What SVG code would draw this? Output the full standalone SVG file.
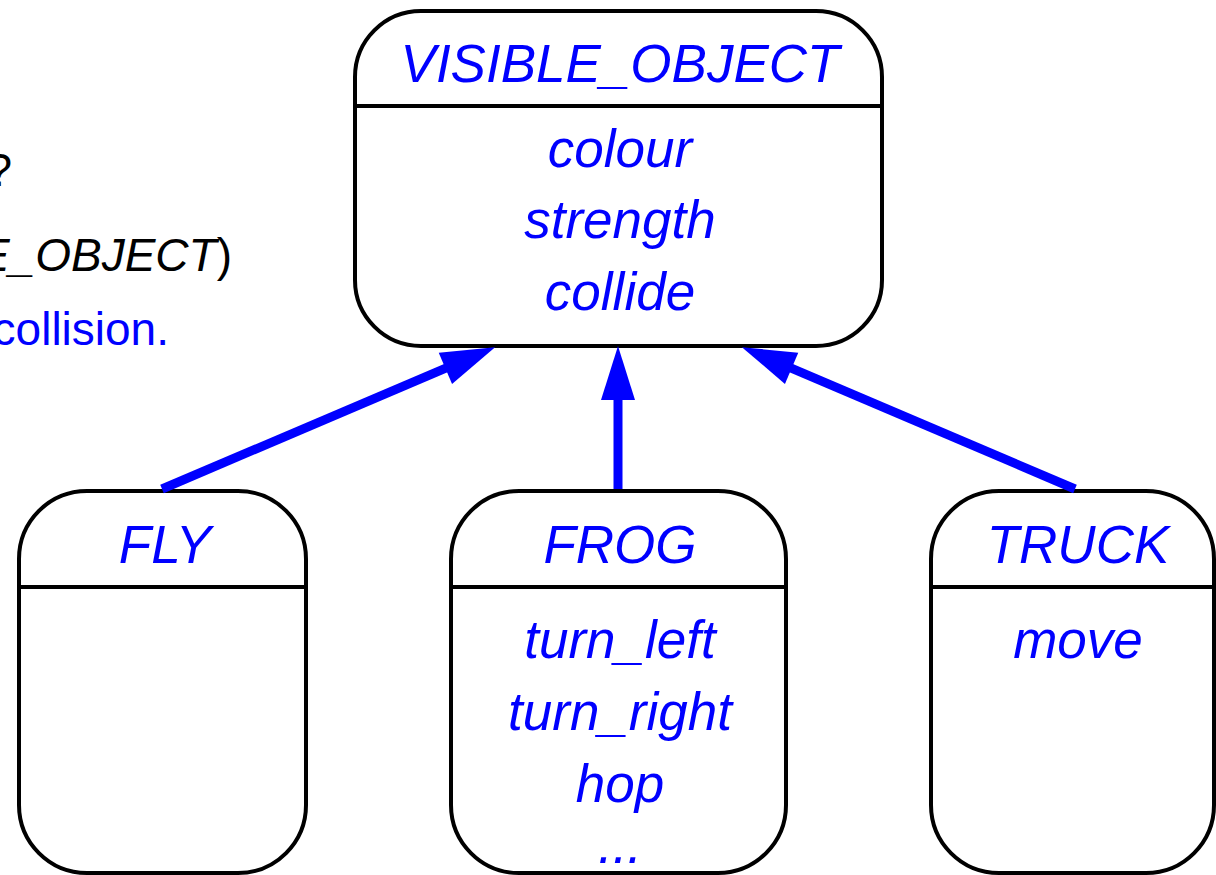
<svg xmlns="http://www.w3.org/2000/svg" width="1216" height="875" viewBox="0 0 1216 875">
<style>
.box{fill:#fff;stroke:#000;stroke-width:4}
.div{stroke:#000;stroke-width:4}
.t{font-family:"Liberation Sans",Arial,sans-serif;font-style:italic;font-size:53px;fill:#0000ff;text-anchor:middle}
.note{font-family:"Liberation Sans",Arial,sans-serif;font-size:46px}
.conn{stroke:#0000ff;stroke-width:9;fill:none}
</style>
<defs>
<marker id="head" markerUnits="userSpaceOnUse" viewBox="0 0 54 34" refX="10" refY="17" markerWidth="54" markerHeight="34" orient="auto" overflow="visible">
<path d="M0,0 L54,17 L0,34 z" fill="#0000ff"/>
</marker>
</defs>
<rect width="1216" height="875" fill="#fff"/>
<g id="note">
<text class="note" x="12" y="186" text-anchor="end" fill="#000">?</text>
<text class="note" x="232" y="271" text-anchor="end" fill="#000"><tspan font-style="italic">E_OBJECT</tspan>)</text>
<text class="note" x="169" y="345" text-anchor="end" fill="#0000ff">collision.</text>
</g>
<g id="visible_object">
<rect class="box" x="355" y="11" width="527" height="335" rx="66" ry="66"/>
<line class="div" x1="355" y1="106" x2="882" y2="106"/>
<text class="t" x="620" y="82">VISIBLE_OBJECT</text>
<text class="t" x="620" y="167">colour</text>
<text class="t" x="620" y="238">strength</text>
<text class="t" x="620" y="310">collide</text>
</g>
<g id="fly">
<rect class="box" x="19" y="491" width="287" height="382" rx="68" ry="68"/>
<line class="div" x1="19" y1="587" x2="306" y2="587"/>
<text class="t" x="165" y="563">FLY</text>
</g>
<g id="frog">
<rect class="box" x="451" y="491" width="335" height="382" rx="68" ry="68"/>
<line class="div" x1="451" y1="587" x2="786" y2="587"/>
<text class="t" x="620" y="563">FROG</text>
<text class="t" x="620" y="658">turn_left</text>
<text class="t" x="620" y="730">turn_right</text>
<text class="t" x="620" y="802">hop</text>
<text class="t" x="620" y="863">...</text>
</g>
<g id="truck">
<rect class="box" x="931" y="491" width="283" height="382" rx="68" ry="68"/>
<line class="div" x1="931" y1="587" x2="1214" y2="587"/>
<text class="t" x="1078" y="563">TRUCK</text>
<text class="t" x="1078" y="658">move</text>
</g>
<g id="connectors">
<path class="conn" d="M162,489 L454.6,364.4" marker-end="url(#head)"/>
<path class="conn" d="M618,489 L618,390" marker-end="url(#head)"/>
<path class="conn" d="M1075,489 L782.4,364.4" marker-end="url(#head)"/>
</g>
</svg>
